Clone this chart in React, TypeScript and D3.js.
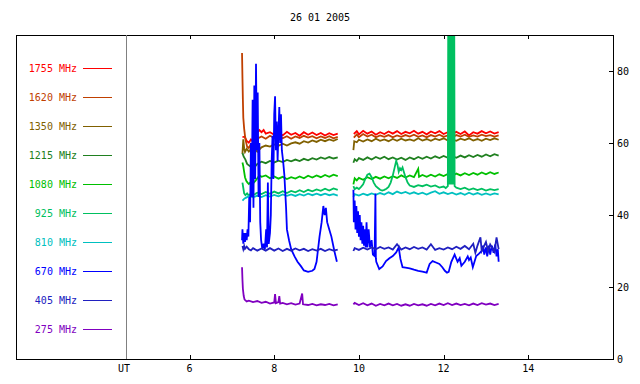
import * as d3 from 'd3';
import React from 'react';

// 26 01 2005 radio flux, one list of [UT hour, value] per frequency, null = data gap
type Pt = [number, number] | null;

const title = '26 01 2005';
const xTicks = [6, 8, 10, 12, 14];
const yTicks = [0, 20, 40, 60, 80];

const f1755: Pt[] = [
  [7.25, 61.6], [7.3, 61.8], [7.35, 60.6], [7.4, 60.1], [7.45, 61], [7.5, 60.3], [7.55, 61.6], [7.6, 62.8], [7.65, 63.6], [7.7, 63],
  [7.75, 63.6], [7.8, 62.6], [7.9, 63], [8.0, 62.3], [8.1, 62.9], [8.2, 62.1], [8.3, 63.1], [8.4, 62.3], [8.5, 62.8], [8.6, 62], [8.7, 63],
  [8.8, 62.3], [8.9, 62.9], [9.0, 62.2], [9.1, 62.8], [9.2, 62.1], [9.3, 62.7], [9.4, 62.2], [9.5, 62.6],
  null,
  [9.88, 62.5], [9.95, 63.3], [10.0, 62.4], [10.1, 63.4], [10.2, 62.6], [10.3, 63.2], [10.4, 62.3], [10.5, 63], [10.6, 62.5], [10.7, 63.2],
  [10.8, 62.6], [10.9, 63.3], [11.0, 62.5], [11.1, 63.1], [11.2, 62.7], [11.3, 63.4], [11.4, 62.6], [11.5, 63.1], [11.6, 62.4], [11.7, 63.2],
  [11.8, 62.7], [11.9, 63.3], [12.0, 62.5], [12.1, 63], [12.2, 62.4], [12.3, 63.1], [12.4, 62.5], [12.5, 63.2], [12.6, 62.1], [12.7, 63],
  [12.8, 62.6], [12.9, 63.3], [13.0, 62.7], [13.1, 63.2], [13.2, 62.6], [13.3, 63],
];

const f1620: Pt[] = [
  [7.24, 85], [7.25, 78], [7.26, 72], [7.27, 67], [7.29, 64], [7.31, 62], [7.33, 60.5], [7.36, 59], [7.4, 58.6], [7.45, 59.8],
  [7.5, 59.4], [7.55, 60.6], [7.6, 61.2], [7.7, 61.8], [7.8, 61.2], [7.9, 62], [8.0, 61.4], [8.1, 62.1], [8.2, 61.3], [8.3, 61.9],
  [8.4, 61.2], [8.5, 61.8], [8.6, 61.4], [8.7, 62], [8.8, 61.5], [8.9, 61.9], [9.0, 61.3], [9.1, 61.8], [9.2, 61.4], [9.3, 61.9],
  [9.4, 61.3], [9.5, 61.7],
  null,
  [9.88, 61.5], [9.95, 62.4], [10.0, 61.6], [10.1, 62.5], [10.2, 61.8], [10.3, 62.3], [10.4, 61.6], [10.5, 62.1], [10.6, 61.7], [10.7, 62.2],
  [10.8, 61.6], [10.9, 62.1], [11.0, 61.7], [11.1, 62.2], [11.2, 61.8], [11.3, 62.3], [11.4, 61.7], [11.5, 62.1], [11.6, 61.6], [11.7, 62.2],
  [11.8, 61.8], [11.9, 62.3], [12.0, 61.7], [12.1, 62.1], [12.2, 61.6], [12.3, 62.2], [12.4, 61.8], [12.5, 62.3], [12.6, 61.7], [12.7, 62.1],
  [12.8, 61.8], [12.9, 62.3], [13.0, 61.9], [13.1, 62.2], [13.2, 61.8], [13.3, 62.1],
];

const f1350: Pt[] = [
  [7.25, 57], [7.27, 61], [7.29, 58.5], [7.31, 57.5], [7.35, 58.4], [7.4, 57.6], [7.45, 58.3], [7.5, 57.5], [7.55, 58.2], [7.6, 57.6],
  [7.7, 58.8], [7.8, 59.3], [7.9, 59], [8.0, 59.6], [8.1, 59.2], [8.2, 59.8], [8.3, 59.3], [8.4, 59.9], [8.5, 60.2], [8.6, 59.8],
  [8.7, 60.5], [8.8, 60.1], [8.9, 60.7], [9.0, 60.3], [9.1, 60.9], [9.2, 60.5], [9.3, 61], [9.4, 60.6], [9.5, 61.1],
  null,
  [9.87, 58], [9.89, 60.5], [9.95, 60.2], [10.0, 60.9], [10.1, 60.4], [10.2, 61], [10.3, 60.5], [10.4, 61.2], [10.5, 60.6], [10.6, 61],
  [10.7, 60.5], [10.8, 61.1], [10.9, 60.6], [11.0, 61.2], [11.1, 60.7], [11.2, 61], [11.3, 60.6], [11.4, 61.3], [11.5, 60.7], [11.6, 61.1],
  [11.7, 60.6], [11.8, 61.2], [11.9, 60.8], [12.0, 61.3], [12.1, 60.7], [12.2, 61], [12.3, 60.6], [12.4, 61.2], [12.5, 60.8], [12.6, 61.3],
  [12.7, 60.7], [12.8, 61.1], [12.9, 60.6], [13.0, 61.2], [13.1, 60.8], [13.2, 61.3], [13.3, 60.9],
];

const f1215: Pt[] = [
  [7.25, 57.2], [7.28, 56.2], [7.32, 55.4], [7.36, 54.2], [7.4, 53.8], [7.45, 53.4], [7.5, 54], [7.55, 53.5], [7.6, 54.2], [7.7, 54.8],
  [7.8, 54.4], [7.9, 55], [8.0, 54.6], [8.1, 55.1], [8.2, 54.7], [8.3, 55.3], [8.4, 54.9], [8.5, 55.4], [8.6, 55], [8.7, 55.6],
  [8.8, 55.2], [8.9, 55.8], [9.0, 55.4], [9.1, 56], [9.2, 55.6], [9.3, 56.1], [9.4, 55.7], [9.5, 56],
  null,
  [9.87, 54.5], [9.9, 55.5], [9.95, 55], [10.0, 55.8], [10.1, 55.3], [10.2, 56], [10.3, 55.4], [10.4, 56.1], [10.5, 55.6], [10.6, 56.2],
  [10.7, 55.5], [10.8, 56], [10.9, 55.4], [11.0, 55.9], [11.1, 55.3], [11.2, 56], [11.3, 55.5], [11.4, 56.1], [11.5, 55.6], [11.6, 56.2],
  [11.7, 55.7], [11.8, 56.3], [11.9, 55.8], [12.0, 56.4], [12.1, 55.9], [12.2, 56.4], [12.3, 55.9], [12.4, 56.5], [12.5, 56], [12.6, 56.6],
  [12.7, 56.1], [12.8, 56.7], [12.9, 56.2], [13.0, 56.8], [13.1, 56.3], [13.2, 56.9], [13.3, 56.5],
];

const f1080: Pt[] = [
  [7.25, 54.6], [7.27, 53.5], [7.29, 52], [7.31, 50.5], [7.34, 49.5], [7.37, 49], [7.4, 48.6], [7.45, 49.2], [7.5, 48.8], [7.55, 49.4],
  [7.6, 50.2], [7.65, 51], [7.7, 50.6], [7.8, 51], [7.9, 50.2], [8.0, 50.7], [8.1, 50.1], [8.2, 50.6], [8.3, 50], [8.4, 50.5],
  [8.5, 50.1], [8.6, 50.7], [8.7, 50.2], [8.8, 50.9], [8.9, 50.4], [9.0, 51], [9.1, 50.5], [9.2, 51.1], [9.3, 50.6], [9.4, 51.2], [9.5, 50.8],
  null,
  [9.87, 48.5], [9.9, 50.2], [9.95, 49.6], [10.0, 50.3], [10.1, 49.8], [10.2, 50.5], [10.3, 50], [10.4, 50.6], [10.5, 50.1], [10.6, 50.7],
  [10.7, 50.2], [10.8, 50.8], [10.9, 50.3], [11.0, 51], [11.1, 50.4], [11.2, 51], [11.3, 50.5], [11.4, 52.8], [11.42, 50.6], [11.5, 51.1],
  [11.6, 50.6], [11.7, 51.2], [11.8, 50.7], [11.9, 51.3], [12.0, 50.8], [12.1, 51.4], [12.2, 50.9], [12.3, 51.5], [12.4, 51], [12.5, 51.6],
  [12.6, 51.1], [12.7, 51.7], [12.8, 51.2], [12.9, 51.8], [13.0, 51.3], [13.1, 51.9], [13.2, 51.4], [13.3, 51.8],
];

const f925: Pt[] = [
  [7.25, 49], [7.27, 47.5], [7.29, 46], [7.32, 45.5], [7.36, 46], [7.4, 45.4], [7.45, 46], [7.5, 45.5], [7.6, 46.2], [7.7, 45.8],
  [7.8, 46.4], [7.9, 45.9], [8.0, 46.5], [8.1, 46], [8.2, 46.6], [8.3, 46.1], [8.4, 46.7], [8.5, 46.3], [8.6, 46.9], [8.7, 46.4],
  [8.8, 47], [8.9, 46.6], [9.0, 47.1], [9.1, 46.7], [9.2, 47.3], [9.3, 46.8], [9.4, 47.4], [9.5, 47],
  null,
  [9.87, 48], [9.9, 47.2], [9.95, 47.6], [10.0, 47.2], [10.05, 47.8], [10.1, 48.5], [10.15, 50], [10.2, 51.2], [10.25, 51.5], [10.3, 50.5],
  [10.35, 49], [10.4, 48], [10.45, 47.5], [10.5, 47], [10.55, 46.8], [10.6, 47], [10.65, 47.3], [10.7, 47.8], [10.75, 49], [10.8, 51],
  [10.85, 53.5], [10.88, 55], [10.91, 54], [10.94, 52], [10.97, 53], [11.0, 52.5], [11.03, 53.2], [11.06, 52], [11.1, 50.5], [11.15, 49],
  [11.2, 48.2], [11.3, 47.8], [11.4, 48.3], [11.5, 48], [11.6, 48.4], [11.7, 47.9], [11.8, 48.2], [11.9, 47.6], [12.0, 47.9], [12.05, 47.5],
  [12.1, 48], [12.12, 150], [12.14, 48.5], [12.16, 150], [12.18, 48.5], [12.2, 150], [12.22, 48.5], [12.24, 150], [12.26, 48],
  [12.3, 47.6], [12.4, 47.2], [12.5, 47.6], [12.6, 47], [12.7, 47.4], [12.8, 46.9], [12.9, 47.3], [13.0, 46.8], [13.1, 47.2], [13.2, 46.9], [13.3, 47.2],
];

const f810: Pt[] = [
  [7.25, 44], [7.3, 44.6], [7.35, 44.9], [7.4, 45.3], [7.5, 44.9], [7.6, 45.4], [7.7, 45], [7.8, 45.5], [7.9, 45.1], [8.0, 45.6],
  [8.1, 45.2], [8.2, 45.7], [8.3, 45.3], [8.4, 45.7], [8.5, 45.3], [8.6, 45.8], [8.7, 45.4], [8.8, 45.9], [8.9, 45.5], [9.0, 45.9],
  [9.1, 45.5], [9.2, 45.9], [9.3, 45.5], [9.4, 45.8], [9.5, 45.4],
  null,
  [9.87, 45], [9.9, 45.8], [10.0, 45.4], [10.1, 45.9], [10.2, 45.5], [10.3, 46], [10.4, 45.6], [10.5, 46.1], [10.6, 45.7], [10.7, 46.3],
  [10.8, 45.8], [10.9, 46.5], [11.0, 46], [11.1, 46.4], [11.2, 45.9], [11.3, 46.3], [11.4, 45.8], [11.5, 46.2], [11.6, 45.7], [11.7, 46.2],
  [11.8, 46.6], [11.9, 45.9], [12.0, 46.3], [12.1, 45.8], [12.2, 46.2], [12.3, 45.7], [12.4, 46.1], [12.5, 45.6], [12.6, 46.2], [12.7, 45.7],
  [12.8, 46.1], [12.9, 45.6], [13.0, 46], [13.1, 45.6], [13.2, 46], [13.3, 45.7],
];

const f670: Pt[] = [
  [7.24, 33], [7.25, 36], [7.27, 32], [7.29, 35], [7.31, 32.5], [7.33, 35], [7.35, 33], [7.37, 36], [7.39, 34], [7.41, 45],
  [7.43, 38], [7.45, 60], [7.47, 45], [7.49, 72], [7.51, 42], [7.53, 76], [7.55, 50], [7.57, 82], [7.59, 58], [7.61, 74],
  [7.63, 45], [7.65, 60], [7.67, 38], [7.69, 33], [7.72, 30.5], [7.75, 32], [7.78, 30.5], [7.81, 36], [7.83, 31], [7.85, 49],
  [7.87, 32], [7.9, 35], [7.92, 40], [7.94, 55], [7.96, 62], [7.98, 50], [8.0, 68], [8.02, 73], [8.04, 58], [8.06, 66],
  [8.08, 55], [8.1, 63], [8.12, 70], [8.14, 60], [8.16, 68], [8.18, 58], [8.21, 55], [8.24, 51], [8.28, 42], [8.3, 36],
  [8.35, 33], [8.4, 30.5], [8.48, 28.5], [8.55, 27], [8.63, 25.8], [8.7, 24.6], [8.8, 24.2], [8.9, 24.5], [8.95, 25], [9.0, 27],
  [9.07, 34], [9.12, 38], [9.16, 42.5], [9.19, 40], [9.22, 42], [9.25, 38], [9.3, 36], [9.35, 34], [9.42, 30], [9.48, 27],
  null,
  [9.87, 47], [9.88, 38], [9.9, 44], [9.92, 36], [9.94, 42.5], [9.96, 35], [9.98, 41], [10.0, 34], [10.02, 40], [10.04, 33],
  [10.06, 38], [10.08, 32], [10.1, 37], [10.12, 31.5], [10.14, 36], [10.16, 31], [10.18, 38], [10.2, 31], [10.23, 36], [10.26, 31],
  [10.3, 33], [10.33, 29], [10.37, 28.6], [10.39, 46], [10.4, 28], [10.41, 27], [10.48, 25], [10.56, 25.7], [10.64, 27.2], [10.72, 28],
  [10.8, 28.6], [10.88, 29.6], [10.94, 31], [10.98, 27.8], [11.03, 25.5], [11.1, 25.4], [11.2, 25.2], [11.3, 24.8], [11.4, 24.5], [11.5, 24.3],
  [11.6, 24], [11.67, 26.4], [11.74, 27.2], [11.82, 26.8], [11.9, 26.4], [11.97, 25.5], [12.03, 24.5], [12.08, 24], [12.12, 24.2], [12.18, 26.9],
  [12.26, 29], [12.33, 27], [12.38, 28], [12.42, 25.9], [12.5, 27], [12.57, 28.5], [12.6, 27.5], [12.64, 28.2], [12.69, 25.5], [12.77, 28.6],
  [12.83, 29.2], [12.9, 30], [12.93, 31.5], [12.96, 29], [13.0, 31], [13.03, 28.5], [13.07, 31.5], [13.1, 29], [13.14, 31.5], [13.18, 29.5],
  [13.22, 31.8], [13.25, 28.5], [13.28, 30.5], [13.3, 27],
];

const f405: Pt[] = [
  [7.25, 31.4], [7.27, 30.5], [7.29, 31.4], [7.31, 30.6], [7.35, 31.2], [7.4, 30.5], [7.45, 30.2], [7.5, 30.8], [7.6, 30.1], [7.7, 30.7],
  [7.8, 30.1], [7.9, 30.8], [8.0, 30.1], [8.1, 30.7], [8.2, 30], [8.3, 30.6], [8.4, 30.1], [8.5, 30.7], [8.6, 30.2], [8.7, 30.6],
  [8.8, 30], [8.9, 30.5], [9.0, 30.1], [9.1, 30.6], [9.2, 30], [9.3, 30.5], [9.4, 30.1], [9.5, 30.4],
  null,
  [9.87, 30], [9.9, 30.8], [10.0, 30.3], [10.1, 30.9], [10.2, 30.4], [10.3, 31], [10.4, 30.5], [10.5, 31.1], [10.6, 30.6], [10.7, 31],
  [10.8, 30.4], [10.9, 31.9], [11.0, 30.4], [11.1, 31], [11.2, 30.5], [11.3, 31.1], [11.4, 30.6], [11.5, 31], [11.6, 30.4], [11.7, 31.9],
  [11.8, 30.3], [11.9, 30.8], [12.0, 30.4], [12.1, 31], [12.2, 30.5], [12.3, 31.2], [12.4, 30.6], [12.5, 31.4], [12.6, 30.5], [12.7, 32],
  [12.75, 29.5], [12.8, 31.5], [12.87, 33.8], [12.9, 30], [13.0, 32.5], [13.05, 30], [13.1, 31.8], [13.2, 29.8], [13.25, 33.8], [13.3, 30.5],
];

const f275: Pt[] = [
  [7.24, 25.5], [7.25, 22], [7.26, 19.5], [7.28, 17.5], [7.3, 16.5], [7.35, 16], [7.4, 16.2], [7.5, 15.8], [7.6, 16.1], [7.7, 15.6],
  [7.8, 15.9], [7.9, 15.4], [8.0, 15.7], [8.02, 18], [8.04, 15.5], [8.1, 15.8], [8.12, 17.5], [8.14, 15.4], [8.2, 15.6], [8.3, 15.2],
  [8.4, 15.5], [8.5, 15.1], [8.6, 15.4], [8.66, 18.2], [8.68, 15.2], [8.8, 15], [8.9, 15.3], [9.0, 14.9], [9.1, 15.2], [9.2, 15],
  [9.3, 15.3], [9.4, 14.9], [9.5, 15.2],
  null,
  [9.87, 15.2], [9.9, 15.6], [10.0, 15], [10.1, 15.5], [10.2, 14.9], [10.3, 15.4], [10.4, 14.8], [10.5, 15.3], [10.6, 14.9], [10.7, 15.4],
  [10.8, 14.9], [10.9, 15.3], [11.0, 14.8], [11.1, 15.2], [11.2, 14.8], [11.3, 15.3], [11.4, 14.9], [11.5, 15.2], [11.6, 14.8], [11.7, 15.3],
  [11.8, 14.9], [11.9, 15.4], [12.0, 15], [12.1, 15.5], [12.2, 15], [12.3, 15.4], [12.4, 15], [12.5, 15.3], [12.6, 14.9], [12.7, 15.4],
  [12.8, 15], [12.9, 15.5], [13.0, 15.1], [13.1, 15.4], [13.2, 15], [13.3, 15.3],
];

const series = [
  { label: '1755 MHz', color: '#ff0000', data: f1755 },
  { label: '1620 MHz', color: '#c04000', data: f1620 },
  { label: '1350 MHz', color: '#806000', data: f1350 },
  { label: '1215 MHz', color: '#208020', data: f1215 },
  { label: '1080 MHz', color: '#00c000', data: f1080 },
  { label: '925 MHz', color: '#00c060', data: f925 },
  { label: '810 MHz', color: '#00c0c0', data: f810 },
  { label: '670 MHz', color: '#0000ff', data: f670 },
  { label: '405 MHz', color: '#2020c0', data: f405 },
  { label: '275 MHz', color: '#8000c0', data: f275 },
];

const W = 640, H = 384;
const frame = { left: 16, top: 35, right: 613, bottom: 359 };
const utX = 126;
const font = '"DejaVu Sans Mono", monospace';

export default function App() {
  const x = d3.scaleLinear().domain([4.5, 16]).range([utX, frame.right]);
  const y = d3.scaleLinear().domain([0, 90]).range([frame.bottom, frame.top]);

  const line = d3.line<Pt>()
    .defined(d => d != null)
    .x(d => x((d as [number, number])[0]))
    .y(d => y((d as [number, number])[1]));

  return (
    <svg width={W} height={H} style={{ position: 'absolute', left: 0, top: 0, background: '#fff' }}
      fontFamily={font} fontSize={10}>
      <defs>
        <clipPath id="plot">
          <rect x={utX} y={frame.top + 1} width={frame.right - utX} height={frame.bottom - frame.top - 1} />
        </clipPath>
      </defs>

      <text x={320} y={21} textAnchor="middle" fill="#000">{title}</text>

      {/* data */}
      <g clipPath="url(#plot)">
        {series.map(s => (
          <path key={s.label} d={line(s.data) || ''} fill="none" stroke={s.color} strokeWidth={1.8} strokeLinejoin="miter" />
        ))}
      </g>

      {/* frame */}
      <g shapeRendering="crispEdges" stroke="#000" fill="none">
        <rect x={frame.left + 0.5} y={frame.top + 0.5} width={frame.right - frame.left} height={frame.bottom - frame.top} />
        <line x1={utX + 0.5} x2={utX + 0.5} y1={frame.top} y2={frame.bottom} stroke="#808080" />
        {xTicks.map(t => (
          <g key={t}>
            <line x1={Math.round(x(t)) + 0.5} x2={Math.round(x(t)) + 0.5} y1={frame.bottom} y2={frame.bottom - 4} />
            <line x1={Math.round(x(t)) + 0.5} x2={Math.round(x(t)) + 0.5} y1={frame.top} y2={frame.top + 4} />
          </g>
        ))}
        {yTicks.map(t => (
          <line key={t} x1={frame.right} x2={frame.right - 4} y1={Math.round(y(t)) + 0.5} y2={Math.round(y(t)) + 0.5} />
        ))}
      </g>

      {/* axis labels */}
      <text x={utX - 2} y={372} textAnchor="middle" fill="#000">UT</text>
      {xTicks.map(t => (
        <text key={t} x={x(t)} y={372} textAnchor="middle" fill="#000">{t}</text>
      ))}
      {yTicks.map(t => (
        <text key={t} x={frame.right + 4} y={y(t) + 4} fill="#000">{t}</text>
      ))}

      {/* legend */}
      {series.map((s, i) => {
        const ly = 68 + i * 29;
        return (
          <g key={s.label}>
            <text x={77} y={ly + 4} textAnchor="end" fill={s.color}>{s.label}</text>
            <line x1={83} x2={112} y1={ly + 0.5} y2={ly + 0.5} stroke={s.color} strokeWidth={1} />
          </g>
        );
      })}
    </svg>
  );
}
